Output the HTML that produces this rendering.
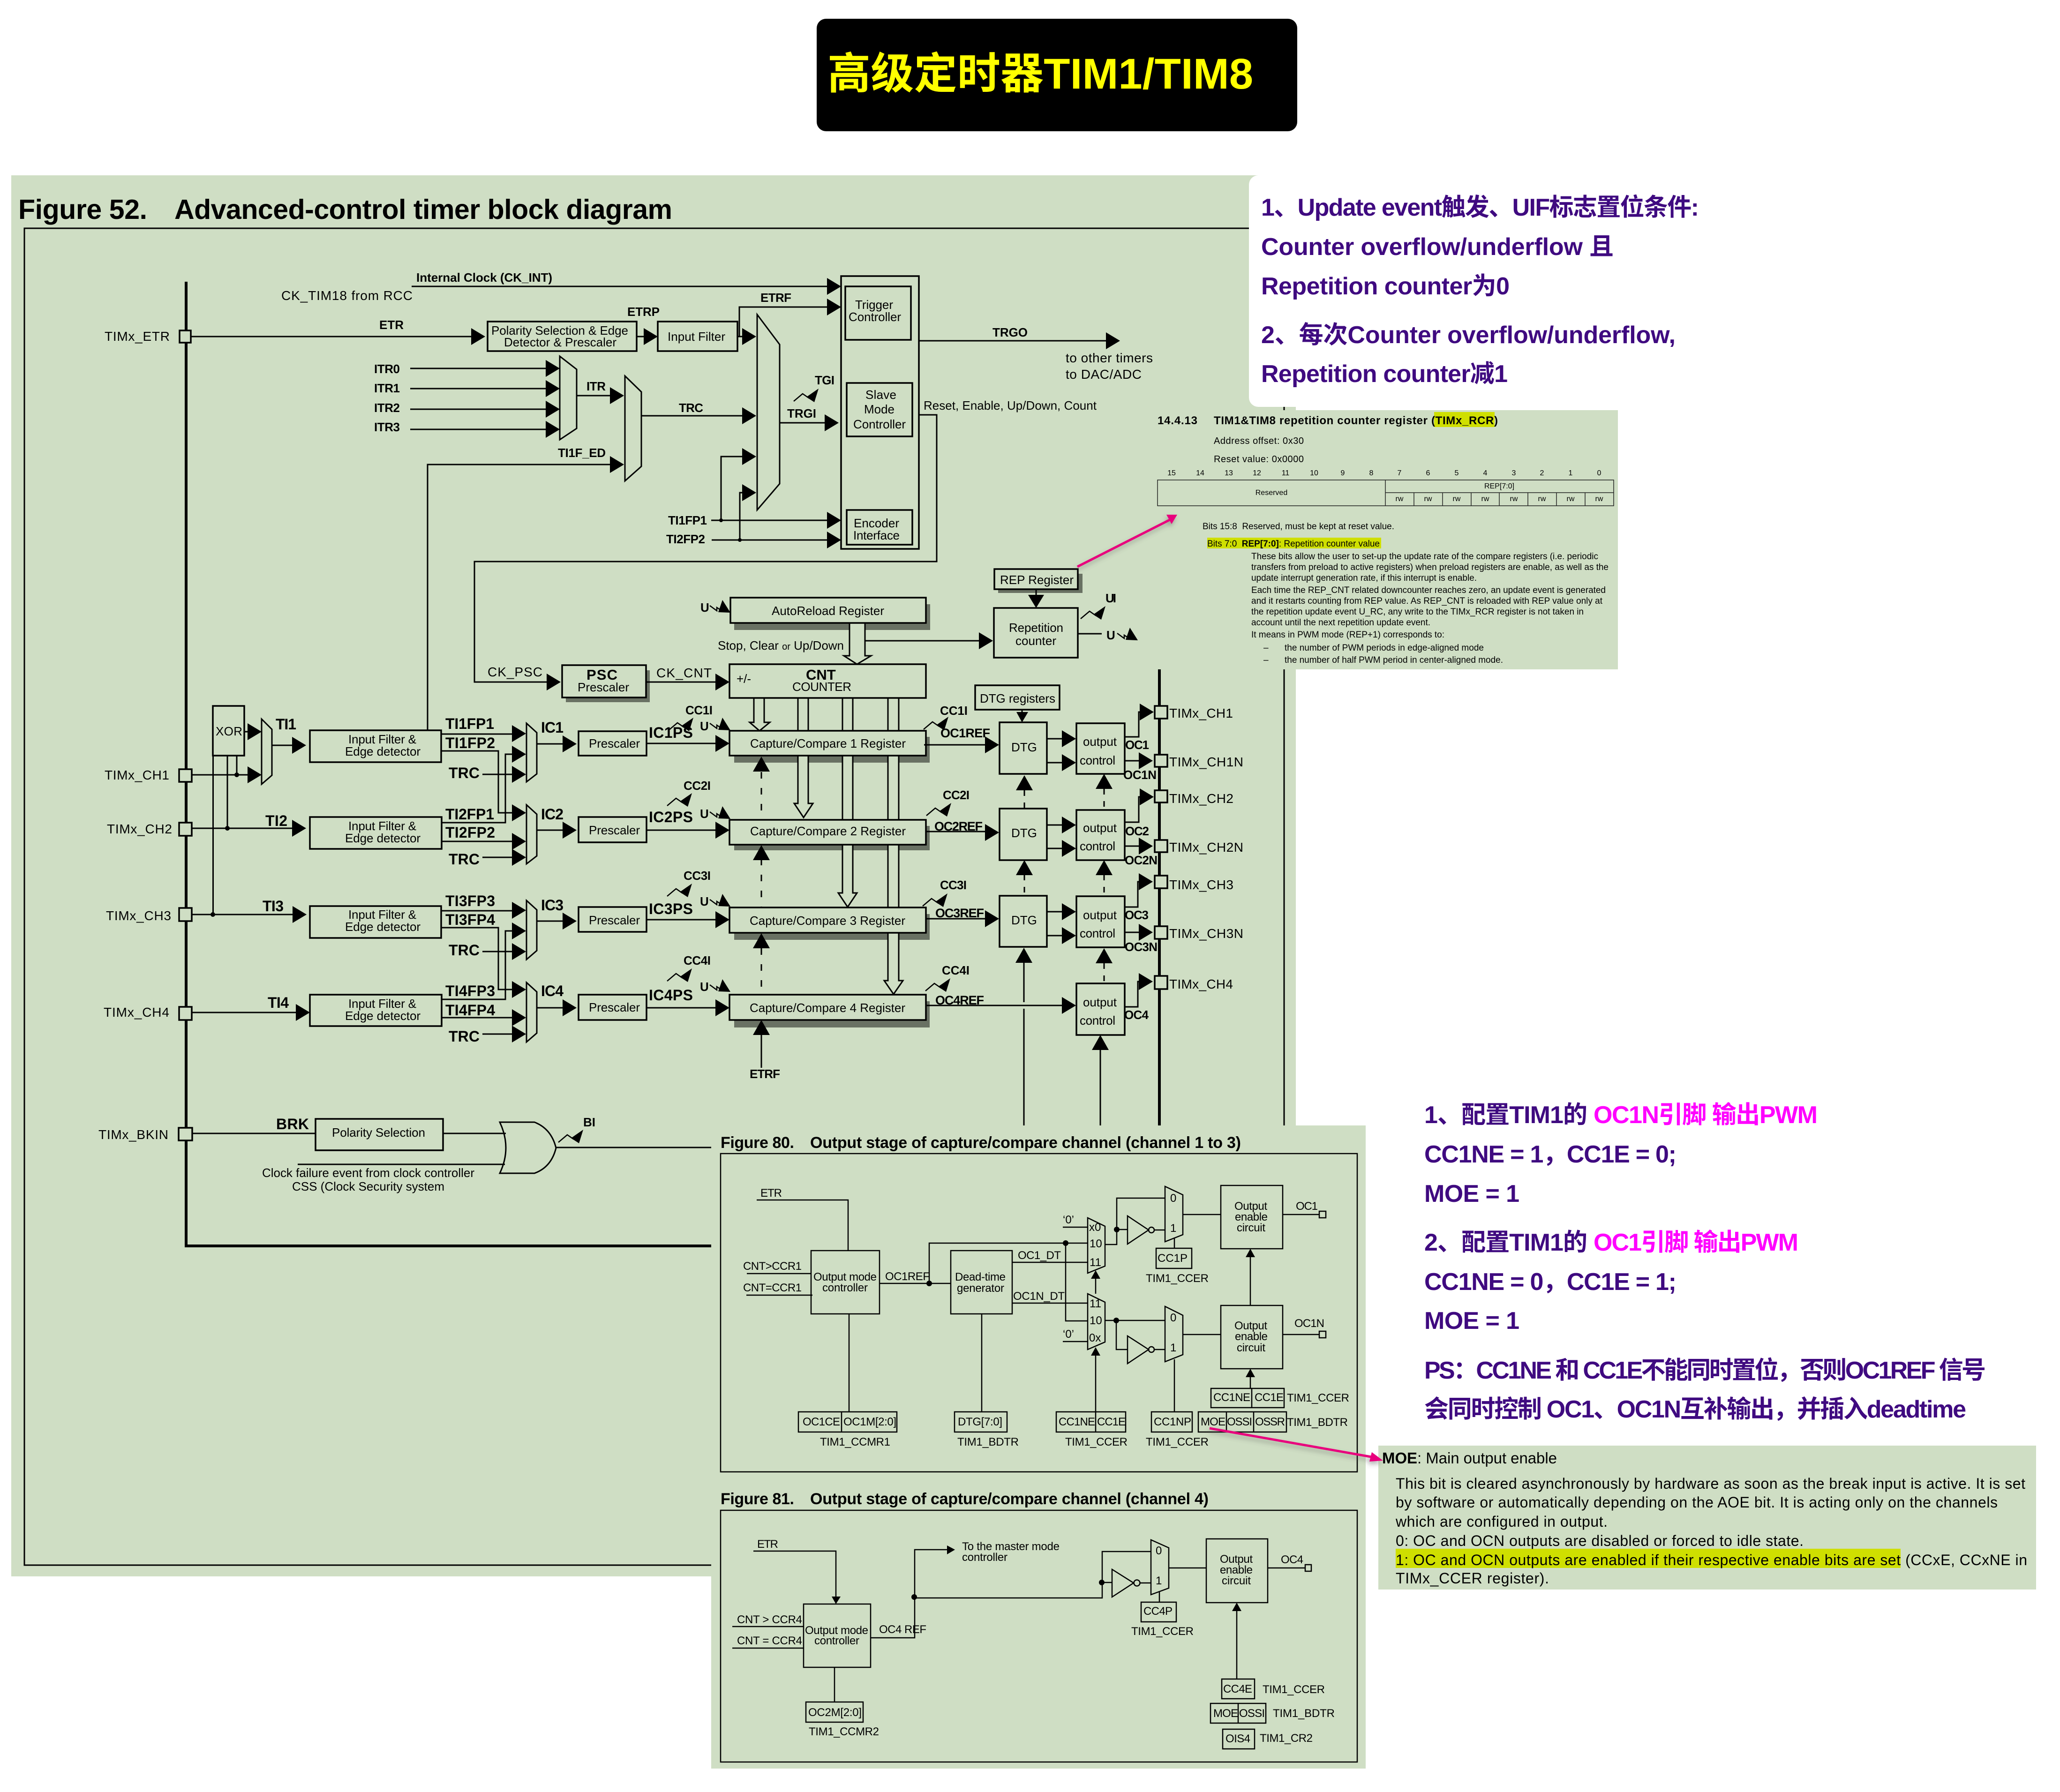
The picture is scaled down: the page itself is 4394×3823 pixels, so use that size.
<!DOCTYPE html>
<html><head><meta charset="utf-8"><title>TIM1/TIM8</title>
<style>
html,body{margin:0;padding:0;background:#fff}
svg{display:block;font-family:"Liberation Sans","Noto Sans CJK SC",sans-serif}
text{font-size:28px;fill:#000}
.b{font-weight:bold}
.l{fill:none;stroke:#000;stroke-width:3}
.bx{fill:#cfdec4;stroke:#000;stroke-width:3.5}
.sh{fill:#697163}
.p{font-weight:bold;font-size:52px;fill:#3f0a80}
.m{font-weight:bold;font-size:52px;fill:#ff00ff}
.d{font-size:26px}
.e{font-size:19px}
.f{font-size:24px}
.tb{font-size:26px}
.bb{font-weight:bold;font-size:32px}
.bs{font-weight:bold;font-size:26px}
</style></head><body>
<svg width="4394" height="3823" viewBox="0 0 4394 3823" xmlns="http://www.w3.org/2000/svg">
<defs>
<polygon id="R" points="-30,-18 0,0 -30,18"/>
<polygon id="Up" points="-18,32 0,0 18,32"/>
<polygon id="Dn" points="-17,-28 0,0 17,-28"/>
<polygon id="u" points="-10,18 0,0 10,18"/>
<g id="S"><path d="M0,0L19,-16L32,-7L38,-14" fill="none" stroke="#000" stroke-width="2.5"/><polygon points="53,-27 44,2 27,-9"/></g>
<g id="V"><path d="M0,0L15,11L15,4L24,10" fill="none" stroke="#000" stroke-width="2.5"/><polygon points="44,15 27,-12 18,14"/></g>
<filter id="sd" x="-5%" y="-20%" width="110%" height="140%"><feDropShadow dx="-2" dy="6" stdDeviation="5" flood-color="#555" flood-opacity=".45"/></filter>
</defs>
<rect width="4394" height="3823" fill="#fff"/>
<!-- title -->
<rect x="1742" y="40" width="1025" height="240" rx="20" fill="#000"/>
<text x="1765" y="189" class="b" style="font-size:92px;fill:#ffff00" textLength="908">高级定时器TIM1/TIM8</text>
<!-- main green -->
<rect x="24" y="374" width="2740" height="2989" fill="#cfdec4"/>
<text x="39" y="467" class="b" style="font-size:59px" textLength="275">Figure 52.</text>
<text x="372" y="467" class="b" style="font-size:59px" textLength="1062">Advanced-control timer block diagram</text>
<rect x="52" y="487" width="2687" height="2852" fill="none" stroke="#000" stroke-width="3"/>
<!-- buses -->
<path d="M397 601V2658H2473V1000" fill="none" stroke="#000" stroke-width="6"/>
<!-- upper section lines -->
<path class="l" d="M878 611H1770M407 718H1010M1358 718H1380M1573 718H1590M1577 718V655H1770M875 786H1170M875 829H1170M875 873H1170M875 916H1170M1230 844H1310M1368 887H1590M1663 902H1765M912 1558V991H1310M1960 727H2365M1960 885H1998V1198H1012V1455H1170M1517 1110H1770M1538 1110V974H1590M1518 1152H1770M1578 1152V1051H1590"/>
<g fill="#000">
<use href="#R" x="1794" y="611"/><use href="#R" x="1794" y="655"/><use href="#R" x="1035" y="718"/><use href="#R" x="1403" y="718"/><use href="#R" x="1613" y="718"/>
<use href="#R" x="1194" y="786"/><use href="#R" x="1194" y="829"/><use href="#R" x="1194" y="873"/><use href="#R" x="1194" y="916"/>
<use href="#R" x="1331" y="844"/><use href="#R" x="1331" y="991"/><use href="#R" x="1613" y="887"/><use href="#R" x="1613" y="974"/><use href="#R" x="1613" y="1051"/>
<use href="#R" x="1789" y="902"/><use href="#R" x="1794" y="1110"/><use href="#R" x="1794" y="1152"/><use href="#R" x="2389" y="727"/>
<circle cx="1538" cy="1110" r="4"/><circle cx="1578" cy="1152" r="4"/>
</g>
<path class="l" d="M1194 760L1230 788V914L1194 938ZM1333 802L1368 836V995L1333 1026ZM1615 671L1663 735V1032L1615 1088Z"/>
<rect x="1794" y="589" width="166" height="582" class="l" style="stroke-width:3.5"/>
<rect x="1803" y="611" width="140" height="114" class="l" style="stroke-width:3.5"/>
<rect x="1806" y="817" width="140" height="114" class="l" style="stroke-width:3.5"/>
<rect x="1806" y="1088" width="140" height="74" class="l" style="stroke-width:3.5"/>
<rect x="1040" y="686" width="318" height="63" class="l" style="stroke-width:3.5"/>
<rect x="1403" y="686" width="170" height="63" class="l" style="stroke-width:3.5"/>
<text x="888" y="601" class="b d" textLength="290">Internal Clock (CK_INT)</text>
<text x="600" y="640" textLength="280">CK_TIM18 from RCC</text>
<text x="223" y="727" textLength="139">TIMx_ETR</text>
<text x="809" y="702" class="bs" textLength="52">ETR</text>
<text x="1338" y="674" class="bs" textLength="69">ETRP</text>
<text x="1622" y="644" class="bs" textLength="66">ETRF</text>
<text x="2117" y="718" class="bs" textLength="75">TRGO</text>
<text x="1048" y="714" class="tb" textLength="292">Polarity Selection &amp; Edge</text>
<text x="1075" y="739" class="tb" textLength="240">Detector &amp; Prescaler</text>
<text x="1424" y="727" class="tb" textLength="123">Input Filter</text>
<text x="1824" y="659" class="tb" textLength="81">Trigger</text>
<text x="1810" y="685" class="tb" textLength="112">Controller</text>
<text x="1846" y="851" class="tb" textLength="66">Slave</text>
<text x="1843" y="882" class="tb" textLength="65">Mode</text>
<text x="1820" y="914" class="tb" textLength="112">Controller</text>
<text x="1821" y="1125" class="tb" textLength="97">Encoder</text>
<text x="1820" y="1151" class="tb" textLength="99">Interface</text>
<text x="798" y="796" class="bs" textLength="55">ITR0</text>
<text x="798" y="837" class="bs" textLength="55">ITR1</text>
<text x="798" y="879" class="bs" textLength="55">ITR2</text>
<text x="798" y="920" class="bs" textLength="55">ITR3</text>
<text x="1251" y="833" class="bs" textLength="41">ITR</text>
<text x="1448" y="879" class="bs" textLength="52">TRC</text>
<text x="1190" y="975" class="bs" textLength="102">TI1F_ED</text>
<text x="1679" y="891" class="bs" textLength="62">TRGI</text>
<text x="1738" y="820" class="bs" textLength="42">TGI</text>
<use href="#S" x="1693" y="856"/>
<text x="1425" y="1119" class="bs" textLength="83">TI1FP1</text>
<text x="1421" y="1159" class="bs" textLength="83">TI2FP2</text>
<text x="2273" y="773" textLength="186">to other timers</text>
<text x="2273" y="808" textLength="162">to DAC/ADC</text>
<text x="1970" y="874" class="tb" textLength="369">Reset, Enable, Up/Down, Count</text>

<!-- pins -->
<g fill="#cfdec4" stroke="#000" stroke-width="3.5">
<rect x="383" y="705" width="24" height="26"/>
<rect x="382" y="1641" width="27" height="27"/><rect x="382" y="1755" width="27" height="28"/><rect x="382" y="1937" width="27" height="28"/><rect x="382" y="2148" width="27" height="28"/>
<rect x="381" y="2406" width="29" height="27"/>
<rect x="2463" y="1506" width="27" height="27"/><rect x="2463" y="1610" width="27" height="26"/><rect x="2463" y="1686" width="27" height="26"/><rect x="2463" y="1792" width="27" height="26"/><rect x="2463" y="1868" width="27" height="27"/><rect x="2463" y="1976" width="27" height="27"/><rect x="2463" y="2082" width="27" height="28"/>
</g>
<text x="223" y="1663" textLength="138">TIMx_CH1</text>
<text x="228" y="1778" textLength="139">TIMx_CH2</text>
<text x="226" y="1963" textLength="139">TIMx_CH3</text>
<text x="221" y="2169" textLength="140">TIMx_CH4</text>
<text x="210" y="2430" textLength="149">TIMx_BKIN</text>
<text x="2494" y="1531" textLength="136">TIMx_CH1</text>
<text x="2494" y="1635" textLength="158">TIMx_CH1N</text>
<text x="2494" y="1713" textLength="137">TIMx_CH2</text>
<text x="2494" y="1817" textLength="158">TIMx_CH2N</text>
<text x="2494" y="1897" textLength="137">TIMx_CH3</text>
<text x="2494" y="2001" textLength="158">TIMx_CH3N</text>
<text x="2494" y="2109" textLength="136">TIMx_CH4</text>

<!-- left input section -->
<path class="l" d="M409 1653H530M521 1561H530M505 1612V1653M485 1612V1767M454.500 1612V1951M409 1767H625M409 1951H627M409 2160H635M580 1590H625"/>
<rect x="454" y="1506" width="67" height="106" class="l" style="stroke-width:3.500"/>
<text x="460" y="1569" class="tb" textLength="57">XOR</text>
<path class="l" d="M558 1534L580 1556V1654L558 1673Z"/>
<g>
<use href="#R" x="558" y="1561"/><use href="#R" x="558" y="1653"/><use href="#R" x="653" y="1590"/><use href="#R" x="653" y="1767"/><use href="#R" x="654" y="1951"/><use href="#R" x="661" y="2160"/>
<circle cx="505" cy="1653" r="5"/><circle cx="485" cy="1767" r="5"/><circle cx="454" cy="1951" r="5"/>
</g>
<text x="588" y="1556" class="bb" textLength="44">TI1</text><text x="566" y="1762" class="bb" textLength="47">TI2</text><text x="560" y="1944" class="bb" textLength="45">TI3</text><text x="571" y="2150" class="bb" textLength="45">TI4</text>
<g class="l" style="stroke-width:3.500">
<rect x="661" y="1558" width="280" height="68"/><rect x="661" y="1743" width="281" height="68"/><rect x="661" y="1933" width="280" height="68"/><rect x="661" y="2122" width="281" height="67"/>
</g>
<g class="tb">
<text x="743" y="1586" class="tb" textLength="145">Input Filter &amp;</text><text x="736" y="1612" class="tb" textLength="161">Edge detector</text>
<text x="743" y="1771" class="tb" textLength="145">Input Filter &amp;</text><text x="736" y="1797" class="tb" textLength="161">Edge detector</text>
<text x="743" y="1960" class="tb" textLength="145">Input Filter &amp;</text><text x="736" y="1986" class="tb" textLength="161">Edge detector</text>
<text x="743" y="2150" class="tb" textLength="145">Input Filter &amp;</text><text x="736" y="2176" class="tb" textLength="161">Edge detector</text>
</g>
<path class="l" d="M941 1566H1095M941 1602H1063V1734H1095M1095 1609H1078V1755H942M1029 1652H1095M942 1795H1095M1029 1829H1095M941 1943H1095M941 1979H1063V2111H1095M1095 1986H1078V2132H942M1029 2030H1095M942 2171H1095M1029 2206H1095"/>
<g>
<use href="#R" x="1122" y="1565"/><use href="#R" x="1122" y="1609"/><use href="#R" x="1122" y="1652"/><use href="#R" x="1122" y="1734"/><use href="#R" x="1122" y="1795"/><use href="#R" x="1122" y="1829"/>
<use href="#R" x="1122" y="1942"/><use href="#R" x="1122" y="1986"/><use href="#R" x="1122" y="2030"/><use href="#R" x="1122" y="2111"/><use href="#R" x="1122" y="2171"/><use href="#R" x="1122" y="2206"/>
</g>
<path class="l" d="M1123 1543L1145 1563V1651L1123 1668ZM1123 1717L1145 1737V1826L1123 1843ZM1123 1921L1145 1941V2028L1123 2047ZM1123 2096L1145 2116V2204L1123 2223Z"/>
<text x="950" y="1555" class="bb" textLength="104">TI1FP1</text><text x="950" y="1596" class="bb" textLength="106">TI1FP2</text><text x="957" y="1660" class="bb" textLength="66">TRC</text>
<text x="950" y="1748" class="bb" textLength="104">TI2FP1</text><text x="950" y="1787" class="bb" textLength="106">TI2FP2</text><text x="957" y="1844" class="bb" textLength="66">TRC</text>
<text x="950" y="1933" class="bb" textLength="106">TI3FP3</text><text x="950" y="1973" class="bb" textLength="106">TI3FP4</text><text x="957" y="2038" class="bb" textLength="66">TRC</text>
<text x="950" y="2125" class="bb" textLength="106">TI4FP3</text><text x="950" y="2166" class="bb" textLength="106">TI4FP4</text><text x="957" y="2222" class="bb" textLength="66">TRC</text>
<text x="1154" y="1563" class="bb" textLength="48">IC1</text><text x="1154" y="1748" class="bb" textLength="48">IC2</text><text x="1154" y="1942" class="bb" textLength="48">IC3</text><text x="1154" y="2125" class="bb" textLength="48">IC4</text>
<path class="l" d="M1145 1587H1205M1145 1771H1205M1145 1965H1205M1145 2150H1205M1379 1586H1530M1379 1771H1530M1379 1962H1530M1379 2150H1530"/>
<g>
<use href="#R" x="1230" y="1587"/><use href="#R" x="1230" y="1771"/><use href="#R" x="1230" y="1965"/><use href="#R" x="1230" y="2150"/>
<use href="#R" x="1556" y="1586"/><use href="#R" x="1556" y="1771"/><use href="#R" x="1556" y="1962"/><use href="#R" x="1556" y="2150"/>
</g>
<g class="l" style="stroke-width:3.500">
<rect x="1234" y="1560" width="145" height="52"/><rect x="1234" y="1743" width="145" height="54"/><rect x="1234" y="1935" width="145" height="53"/><rect x="1234" y="2122" width="145" height="54"/>
</g>
<text x="1256" y="1595" class="tb" textLength="109">Prescaler</text><text x="1256" y="1780" class="tb" textLength="109">Prescaler</text><text x="1256" y="1972" class="tb" textLength="109">Prescaler</text><text x="1256" y="2158" class="tb" textLength="109">Prescaler</text>
<text x="1384" y="1574" class="bb" textLength="94">IC1PS</text><text x="1384" y="1754" class="bb" textLength="94">IC2PS</text><text x="1384" y="1950" class="bb" textLength="94">IC3PS</text><text x="1384" y="2134" class="bb" textLength="94">IC4PS</text>
<text x="1462" y="1524" class="bs" textLength="58">CC1I</text><text x="1458" y="1685" class="bs" textLength="58">CC2I</text><text x="1458" y="1877" class="bs" textLength="58">CC3I</text><text x="1458" y="2058" class="bs" textLength="58">CC4I</text>
<use href="#S" x="1426" y="1558"/><use href="#S" x="1423" y="1719"/><use href="#S" x="1423" y="1912"/><use href="#S" x="1423" y="2093"/>
<text x="1493" y="1558" class="bs">U</text><text x="1493" y="1745" class="bs">U</text><text x="1493" y="1932" class="bs">U</text><text x="1493" y="2114" class="bs">U</text><text x="1494" y="1305" class="bs">U</text>
<use href="#V" x="1514" y="1543"/><use href="#V" x="1514" y="1732"/><use href="#V" x="1514" y="1919"/><use href="#V" x="1514" y="2101"/><use href="#V" x="1514" y="1292"/>

<!-- PSC -->
<rect x="1207" y="1430" width="179" height="68" class="sh"/>
<rect x="1199" y="1419" width="179" height="69" class="bx"/>
<text x="1251" y="1450" class="b" style="font-size:31px" textLength="66">PSC</text>
<text x="1232" y="1475" class="tb" textLength="110">Prescaler</text>
<text x="1040" y="1443" textLength="117">CK_PSC</text>
<text x="1400" y="1445" textLength="118">CK_CNT</text>
<use href="#R" x="1196" y="1455"/>
<path class="l" d="M1378 1455H1530"/><use href="#R" x="1556" y="1455"/>

<!-- registers shadows -->
<rect x="1566" y="1289" width="418" height="55" class="sh"/>
<rect x="1566" y="1572" width="417" height="55" class="sh"/>
<rect x="1566" y="1762" width="417" height="52" class="sh"/>
<rect x="1566" y="1950" width="417" height="55" class="sh"/>
<rect x="1566" y="2136" width="417" height="56" class="sh"/>
<rect x="2129" y="1224" width="180" height="41" class="sh"/>
<!-- hollow bus lines -->
<g class="l" style="fill:#cfdec4">
<path d="M1812 1329V1399H1800L1828 1417L1858 1399H1845V1329Z"/>
<path d="M1608 1489V1541H1599L1620 1559L1642 1541H1630V1489Z"/>
<path d="M1702 1489V1560H1724V1489ZM1702 1612V1714H1694L1714 1744L1734 1714H1724V1612Z"/>
<path d="M1797 1489V1560H1819V1489ZM1797 1612V1750H1819V1612ZM1797 1802V1905H1788L1808 1935L1828 1905H1819V1802Z"/>
<path d="M1894 1489V1560H1917V1489ZM1894 1612V1750H1917V1612ZM1894 1802V1937H1917V1802ZM1894 1990V2092H1886L1906 2121L1926 2092H1917V1990Z"/>
</g>
<rect x="1558" y="1275" width="417" height="54" class="bx"/>
<rect x="1556" y="1417" width="419" height="72" class="bx"/>
<rect x="1556" y="1559" width="419" height="53" class="bx"/>
<rect x="1556" y="1749" width="419" height="53" class="bx"/>
<rect x="1556" y="1936" width="419" height="54" class="bx"/>
<rect x="1556" y="2122" width="419" height="54" class="bx"/>
<text x="1646" y="1312" class="tb" textLength="240">AutoReload Register</text>
<text x="1531" y="1386" class="tb" textLength="269">Stop, Clear <tspan style="font-size:20px">or</tspan> Up/Down</text>
<text x="1571" y="1457" class="tb">+/-</text>
<text x="1719" y="1450" class="b" style="font-size:31px">CNT</text>
<text x="1690" y="1474" class="tb" textLength="126">COUNTER</text>
<text x="1600" y="1595" class="tb" textLength="332">Capture/Compare 1 Register</text>
<text x="1600" y="1782" class="tb" textLength="332">Capture/Compare 2 Register</text>
<text x="1599" y="1973" class="tb" textLength="332">Capture/Compare 3 Register</text>
<text x="1599" y="2159" class="tb" textLength="332">Capture/Compare 4 Register</text>
<!-- dashed up -->
<path d="M1624 1647V1749M1624 1832V1936M1624 2023V2122" fill="none" stroke="#000" stroke-width="3" stroke-dasharray="14 20"/>
<path class="l" d="M1624 2208V2278"/>
<use href="#Up" x="1624" y="1614"/><use href="#Up" x="1624" y="1803"/><use href="#Up" x="1624" y="1991"/><use href="#Up" x="1624" y="2176"/>
<text x="1599" y="2300" class="bs" textLength="65">ETRF</text>
<!-- rep counter -->
<rect x="2121" y="1214" width="178" height="43" class="bx"/>
<text x="2133" y="1246" class="tb" textLength="157">REP Register</text>
<rect x="2120" y="1297" width="179" height="106" class="l" style="stroke-width:3.500"/>
<text x="2152" y="1348" class="tb" textLength="116">Repetition</text>
<text x="2166" y="1376" class="tb" textLength="87">counter</text>
<path class="l" d="M1845 1367H2092M2210 1257V1275M2299 1352H2350"/>
<use href="#R" x="2118" y="1367"/><use href="#Dn" x="2210" y="1297"/>
<text x="2358" y="1285" class="bs" textLength="23">UI</text><use href="#S" x="2305" y="1320"/>
<text x="2360" y="1364" class="bs">U</text><use href="#V" x="2383" y="1351"/>
<!-- DTG / output -->
<rect x="2080" y="1462" width="180" height="52" class="l" style="stroke-width:3.500"/>
<text x="2090" y="1499" class="tb" textLength="161">DTG registers</text>
<path class="l" d="M2180 1514V1525"/><polygon points="2168,1519 2193,1519 2180,1541"/>
<g class="l" style="stroke-width:3.500">
<rect x="2132" y="1541" width="101" height="110"/><rect x="2132" y="1725" width="101" height="110"/><rect x="2132" y="1911" width="101" height="109"/>
<rect x="2296" y="1543" width="103" height="108"/><rect x="2296" y="1728" width="103" height="107"/><rect x="2296" y="1912" width="103" height="109"/><rect x="2296" y="2098" width="103" height="110"/>
</g>
<text x="2157" y="1603" class="tb">DTG</text><text x="2157" y="1786" class="tb">DTG</text><text x="2157" y="1972" class="tb">DTG</text>
<text x="2310" y="1591" class="tb" textLength="72">output</text><text x="2303" y="1631" class="tb" textLength="76">control</text>
<text x="2310" y="1775" class="tb" textLength="72">output</text><text x="2303" y="1814" class="tb" textLength="76">control</text>
<text x="2310" y="1961" class="tb" textLength="72">output</text><text x="2303" y="2000" class="tb" textLength="76">control</text>
<text x="2310" y="2147" class="tb" textLength="72">output</text><text x="2303" y="2186" class="tb" textLength="76">control</text>
<path class="l" d="M1971 1589H2105M1975 1774H2105M1975 1960H2105M1975 2145H2270M2233 1576H2270M2233 1627H2270M2233 1760H2270M2233 1810H2270M2233 1945H2270M2233 1996H2270M2399 1572H2429V1519H2440M2399 1623H2435M2399 1754H2429V1700H2440M2399 1805H2435M2399 1935H2427V1881H2440M2399 1989H2435M2399 2148H2427V2094H2440M2184 2052V2138M2184 2152V2401M2347 2238V2401"/>
<g>
<use href="#R" x="2131" y="1589"/><use href="#R" x="2131" y="1776"/><use href="#R" x="2131" y="1960"/>
<use href="#R" x="2295" y="1576"/><use href="#R" x="2295" y="1627"/><use href="#R" x="2295" y="1760"/><use href="#R" x="2295" y="1810"/><use href="#R" x="2295" y="1945"/><use href="#R" x="2295" y="1996"/><use href="#R" x="2295" y="2145"/>
<use href="#R" x="2461" y="1519"/><use href="#R" x="2459" y="1623"/><use href="#R" x="2461" y="1700"/><use href="#R" x="2459" y="1805"/><use href="#R" x="2459" y="1881"/><use href="#R" x="2459" y="1989"/><use href="#R" x="2459" y="2094"/>
<use href="#Up" x="2185" y="1654"/><use href="#Up" x="2185" y="1835"/><use href="#Up" x="2184" y="2022"/>
<use href="#Up" x="2355" y="1651"/><use href="#Up" x="2355" y="1835"/><use href="#Up" x="2355" y="2023"/><use href="#Up" x="2347" y="2208"/>
</g>
<path d="M2185 1686V1725M2185 1866V1911M2355 1683V1728M2355 1866V1912M2355 2055V2098" fill="none" stroke="#000" stroke-width="3" stroke-dasharray="12 14"/>
<text x="2005" y="1525" class="bs" textLength="59">CC1I</text><text x="2011" y="1705" class="bs" textLength="57">CC2I</text><text x="2005" y="1897" class="bs" textLength="57">CC3I</text><text x="2009" y="2079" class="bs" textLength="59">CC4I</text>
<use href="#S" x="1970" y="1556"/><use href="#S" x="1976" y="1740"/><use href="#S" x="1968" y="1933"/><use href="#S" x="1974" y="2114"/>
<text x="2006" y="1573" class="b" style="font-size:27px" textLength="106">OC1REF</text>
<text x="1993" y="1772" class="b" style="font-size:27px" textLength="103">OC2REF</text>
<text x="1995" y="1957" class="b" style="font-size:27px" textLength="104">OC3REF</text>
<text x="1995" y="2143" class="b" style="font-size:27px" textLength="104">OC4REF</text>
<text x="2400" y="1598" class="bs" textLength="51">OC1</text><text x="2396" y="1662" class="bs" textLength="71">OC1N</text>
<text x="2400" y="1782" class="bs" textLength="51">OC2</text><text x="2399" y="1844" class="bs" textLength="70">OC2N</text>
<text x="2399" y="1961" class="bs" textLength="51">OC3</text><text x="2399" y="2029" class="bs" textLength="70">OC3N</text>
<text x="2398" y="2174" class="bs" textLength="52">OC4</text>
<!-- BRK -->
<rect x="673" y="2387" width="272" height="67" class="l" style="stroke-width:3.500"/>
<text x="708" y="2425" class="tb" textLength="199">Polarity Selection</text>
<text x="589" y="2409" class="bb" textLength="70">BRK</text>
<path class="l" d="M410 2418H673M945 2418H1079M635 2484H1077M1186 2448H1517"/>
<path class="l" d="M1066 2394Q1092 2449 1066 2503H1140Q1176 2490 1186 2449Q1176 2408 1140 2394Z"/>
<text x="1244" y="2403" class="bs" textLength="26">BI</text><use href="#S" x="1191" y="2437"/>
<text x="559" y="2511" class="tb" textLength="453">Clock failure event from clock controller</text>
<text x="623" y="2540" class="tb" textLength="325">CSS (Clock Security system</text>

<!-- REP doc panel -->
<rect x="2440" y="875" width="1011" height="553" fill="#cfdec4"/>
<rect x="3059" y="879" width="129" height="32" fill="#cfdf00"/>
<text x="2469" y="905" class="b" style="font-size:24px" textLength="85">14.4.13</text>
<text x="2589" y="905" class="b" style="font-size:24px" textLength="606">TIM1&amp;TIM8 repetition counter register (TIMx_RCR)</text>
<text x="2589" y="947" style="font-size:20px" textLength="192">Address offset: 0x30</text>
<text x="2589" y="986" style="font-size:20px" textLength="192">Reset value: 0x0000</text>
<g style="font-size:16px" text-anchor="middle">
<text style="font-size:16px" x="2499" y="1014">15</text><text style="font-size:16px" x="2560" y="1014">14</text><text style="font-size:16px" x="2621" y="1014">13</text><text style="font-size:16px" x="2681" y="1014">12</text><text style="font-size:16px" x="2742" y="1014">11</text><text style="font-size:16px" x="2803" y="1014">10</text><text style="font-size:16px" x="2864" y="1014">9</text><text style="font-size:16px" x="2925" y="1014">8</text><text style="font-size:16px" x="2985" y="1014">7</text><text style="font-size:16px" x="3046" y="1014">6</text><text style="font-size:16px" x="3107" y="1014">5</text><text style="font-size:16px" x="3168" y="1014">4</text><text style="font-size:16px" x="3229" y="1014">3</text><text style="font-size:16px" x="3289" y="1014">2</text><text style="font-size:16px" x="3350" y="1014">1</text><text style="font-size:16px" x="3411" y="1014">0</text>
<text style="font-size:16px" x="2712" y="1056">Reserved</text><text style="font-size:16px" x="3198" y="1042">REP[7:0]</text>
<text style="font-size:16px" x="2985" y="1069">rw</text><text style="font-size:16px" x="3046" y="1069">rw</text><text style="font-size:16px" x="3107" y="1069">rw</text><text style="font-size:16px" x="3168" y="1069">rw</text><text style="font-size:16px" x="3229" y="1069">rw</text><text style="font-size:16px" x="3289" y="1069">rw</text><text style="font-size:16px" x="3350" y="1069">rw</text><text style="font-size:16px" x="3411" y="1069">rw</text>
</g>
<path d="M2469 1024H3442V1079H2469ZM2955 1024V1079M2955 1051H3442M3016 1051V1079M3077 1051V1079M3138 1051V1079M3198 1051V1079M3259 1051V1079M3320 1051V1079M3381 1051V1079" fill="none" stroke="#222" stroke-width="1.500"/>
<text x="2565" y="1129" class="e" textLength="409" xml:space="preserve">Bits 15:8  Reserved, must be kept at reset value.</text>
<rect x="2575" y="1147" width="371" height="23" fill="#cfdf00"/>
<text x="2575" y="1166" class="e" textLength="368" xml:space="preserve">Bits 7:0  <tspan class="b">REP[7:0]</tspan>: Repetition counter value</text>
<text x="2669" y="1193" class="e" textLength="740">These bits allow the user to set-up the update rate of the compare registers (i.e. periodic</text>
<text x="2669" y="1216" class="e" textLength="762">transfers from preload to active registers) when preload registers are enable, as well as the</text>
<text x="2669" y="1239" class="e" textLength="481">update interrupt generation rate, if this interrupt is enable.</text>
<text x="2669" y="1265" class="e" textLength="756">Each time the REP_CNT related downcounter reaches zero, an update event is generated</text>
<text x="2669" y="1288" class="e" textLength="749">and it restarts counting from REP value. As REP_CNT is reloaded with REP value only at</text>
<text x="2669" y="1311" class="e" textLength="709">the repetition update event U_RC, any write to the TIMx_RCR register is not taken in</text>
<text x="2669" y="1334" class="e" textLength="382">account until the next repetition update event.</text>
<text x="2669" y="1360" class="e" textLength="412">It means in PWM mode (REP+1) corresponds to:</text>
<text x="2695" y="1388" class="e">–</text><text x="2740" y="1388" class="e" textLength="425">the number of PWM periods in edge-aligned mode</text>
<text x="2695" y="1414" class="e">–</text><text x="2740" y="1414" class="e" textLength="466">the number of half PWM period in center-aligned mode.</text>

<!-- white callout -->
<path d="M2684 374H4394V868H2684A20 20 0 0 1 2664 848V394A20 20 0 0 1 2684 374Z" fill="#fff"/>
<text x="2690" y="460" class="p" textLength="934">1、Update event触发、UIF标志置位条件:</text>
<text x="2690" y="544" class="p" textLength="752">Counter overflow/underflow 且</text>
<text x="2690" y="628" class="p" textLength="530">Repetition counter为0</text>
<text x="2690" y="732" class="p" textLength="884">2、每次Counter overflow/underflow,</text>
<text x="2690" y="815" class="p" textLength="526">Repetition counter减1</text>

<!-- Fig 80 / 81 panel -->
<rect x="1517" y="2401" width="1396" height="1372" fill="#cfdec4"/>
<text x="1537" y="2449" class="b" style="font-size:34px" textLength="157">Figure 80.</text>
<text x="1728" y="2449" class="b" style="font-size:34px" textLength="919">Output stage of capture/compare channel (channel 1 to 3)</text>
<rect x="1537" y="2461" width="1358" height="679" fill="none" stroke="#000" stroke-width="2.500"/>
<g fill="none" stroke="#000" stroke-width="2.500">
<path d="M1614 2560H1809V2668M1593 2717H1730M1592 2763H1733M1876 2738H2028M1982 2738V2652H2320M2273 2652V2818H2320M2159 2693H2320M2159 2780H2320M2267 2618H2320M2267 2862H2320M2337 2760V2725M2337 3011V2889M2357 2655H2382V2556H2485M2382 2623H2405M2463 2624H2485M2523 2591H2604M2505 2640V2663M2736 2591H2814M2357 2817H2485M2381 2817V2879H2405M2463 2879H2485M2523 2847H2604M2505 2900V3011M2736 2847H2814M2667 2785V2680M2667 2962V2936M1811 2803V3012M2094 2803V3012"/>
<path d="M2320 2598L2357 2616V2701L2320 2716ZM2320 2760L2357 2778V2863L2320 2879ZM2485 2531L2523 2549V2634L2485 2649ZM2485 2787L2523 2806V2890L2485 2905ZM2405 2594V2654L2450 2624ZM2405 2850V2909L2450 2879Z"/>
<circle cx="2456" cy="2624" r="6"/><circle cx="2456" cy="2879" r="6"/>
<rect x="1730" y="2668" width="146" height="135"/><rect x="2028" y="2668" width="131" height="135"/><rect x="2604" y="2529" width="132" height="135"/><rect x="2604" y="2785" width="132" height="135"/>
<rect x="2814" y="2584" width="14" height="14"/><rect x="2814" y="2840" width="14" height="14"/>
<rect x="2466" y="2663" width="76" height="43"/>
<path d="M2583 2962H2739V3003H2583ZM2670 2962V3003M1703 3012H1913V3055H1703ZM1795 3012V3055M2036 3012H2148V3055H2036ZM2253 3012H2401V3055H2253ZM2337 3012V3055M2456 3012H2543V3055H2456ZM2556 3012H2744V3055H2556ZM2616 3012V3055M2674 3012V3055"/>
</g>
<circle cx="1982" cy="2738" r="6"/><circle cx="2273" cy="2652" r="6"/><circle cx="2382" cy="2623" r="6"/><circle cx="2381" cy="2817" r="6"/>
<use href="#u" x="2337" y="2710"/><use href="#u" x="2337" y="2874"/><use href="#u" x="2667" y="2664"/><use href="#u" x="2667" y="2920"/>
<g>
<text class="f" x="1622" y="2553" textLength="46">ETR</text><text class="f" x="1585" y="2709" textLength="125">CNT&gt;CCR1</text><text class="f" x="1585" y="2755" textLength="125">CNT=CCR1</text>
<text class="f" x="1735" y="2732" textLength="135">Output mode</text><text class="f" x="1754" y="2755" textLength="97">controller</text>
<text class="f" x="1888" y="2731" textLength="95">OC1REF</text>
<text class="f" x="2037" y="2732" textLength="108">Dead-time</text><text class="f" x="2041" y="2756" textLength="101">generator</text>
<text class="f" x="2171" y="2686" textLength="92">OC1_DT</text><text class="f" x="2161" y="2773" textLength="110">OC1N_DT</text>
<text class="f" x="2267" y="2610">‘0’</text><text class="f" x="2267" y="2854">‘0’</text>
<text class="f" x="2323" y="2626">x0</text><text class="f" x="2324" y="2661">10</text><text class="f" x="2324" y="2701">11</text>
<text class="f" x="2324" y="2789">11</text><text class="f" x="2324" y="2825">10</text><text class="f" x="2323" y="2862">0x</text>
<text class="f" x="2496" y="2564">0</text><text class="f" x="2496" y="2628">1</text><text class="f" x="2496" y="2819">0</text><text class="f" x="2496" y="2883">1</text>
<text class="f" x="2469" y="2692" textLength="64">CC1P</text><text class="f" x="2444" y="2735" textLength="134">TIM1_CCER</text>
<text class="f" x="2633" y="2581" textLength="70">Output</text><text class="f" x="2634" y="2604" textLength="70">enable</text><text class="f" x="2638" y="2627" textLength="61">circuit</text>
<text class="f" x="2633" y="2836" textLength="70">Output</text><text class="f" x="2634" y="2859" textLength="70">enable</text><text class="f" x="2638" y="2883" textLength="61">circuit</text>
<text class="f" x="2764" y="2581" textLength="47">OC1</text><text class="f" x="2761" y="2831" textLength="64">OC1N</text>
<text class="f" x="2588" y="2989" textLength="79">CC1NE</text><text class="f" x="2676" y="2989" textLength="62">CC1E</text><text class="f" x="2745" y="2990" textLength="133">TIM1_CCER</text>
<text class="f" x="1712" y="3041" textLength="80">OC1CE</text><text class="f" x="1799" y="3041" textLength="113">OC1M[2:0]</text><text class="f" x="1749" y="3084" textLength="150">TIM1_CCMR1</text>
<text class="f" x="2043" y="3041" textLength="95">DTG[7:0]</text><text class="f" x="2042" y="3084" textLength="131">TIM1_BDTR</text>
<text class="f" x="2258" y="3041" textLength="78">CC1NE</text><text class="f" x="2340" y="3041" textLength="61">CC1E</text><text class="f" x="2272" y="3084" textLength="133">TIM1_CCER</text>
<text class="f" x="2461" y="3041" textLength="80">CC1NP</text><text class="f" x="2444" y="3084" textLength="134">TIM1_CCER</text>
<text class="f" x="2561" y="3041" textLength="53">MOE</text><text class="f" x="2617" y="3041" textLength="54">OSSI</text><text class="f" x="2677" y="3041" textLength="64">OSSR</text><text class="f" x="2745" y="3042" textLength="130">TIM1_BDTR</text>
</g>

<text x="1537" y="3209" class="b" style="font-size:34px" textLength="157">Figure 81.</text>
<text x="1728" y="3209" class="b" style="font-size:34px" textLength="850">Output stage of capture/compare channel (channel 4)</text>
<rect x="1537" y="3222" width="1358" height="537" fill="none" stroke="#000" stroke-width="2.500"/>
<g fill="none" stroke="#000" stroke-width="2.500">
<path d="M1607 3309H1783V3408M1562 3470H1714M1562 3516H1714M1857 3494H1951V3306H2025M1951 3409H2351V3310H2455M2350 3376H2372M2431 3377H2455M2493 3345H2573M2473 3396V3418M2704 3345H2784M2638 3582V3434M1780 3557V3631"/>
<path d="M2455 3285L2493 3302V3388L2455 3402ZM2372 3348V3407L2418 3377Z"/>
<circle cx="2425" cy="3377" r="6.500"/>
<rect x="1714" y="3422" width="143" height="135"/><rect x="2573" y="3283" width="131" height="136"/><rect x="2784" y="3338" width="13" height="14"/>
<rect x="2434" y="3418" width="75" height="42"/><rect x="2606" y="3582" width="70" height="42"/><path d="M2582 3634H2700V3676H2582ZM2641 3634V3676"/><rect x="2608" y="3689" width="68" height="42"/><rect x="1719" y="3631" width="122" height="43"/>
</g>
<circle cx="1950" cy="3407" r="6"/><circle cx="2350" cy="3376" r="6"/>
<polygon points="1774,3406 1793,3406 1783,3422"/><polygon points="2020,3297 2037,3306 2020,3316"/><use href="#u" x="2638" y="3419"/>
<g>
<text class="f" x="1615" y="3302" textLength="45">ETR</text>
<text class="f" x="1572" y="3463" textLength="139">CNT &gt; CCR4</text><text class="f" x="1572" y="3508" textLength="139">CNT = CCR4</text>
<text class="f" x="1717" y="3486" textLength="135">Output mode</text><text class="f" x="1737" y="3508" textLength="96">controller</text>
<text class="f" x="1875" y="3484" textLength="101">OC4 REF</text>
<text class="f" x="2052" y="3307" textLength="208">To the master mode</text><text class="f" x="2052" y="3330" textLength="97">controller</text>
<text class="f" x="2465" y="3316">0</text><text class="f" x="2465" y="3380">1</text>
<text class="f" x="2602" y="3334" textLength="70">Output</text><text class="f" x="2602" y="3357" textLength="70">enable</text><text class="f" x="2606" y="3380" textLength="62">circuit</text>
<text class="f" x="2732" y="3335" textLength="48">OC4</text>
<text class="f" x="2439" y="3445" textLength="62">CC4P</text><text class="f" x="2413" y="3488" textLength="133">TIM1_CCER</text>
<text class="f" x="2609" y="3611" textLength="62">CC4E</text><text class="f" x="2693" y="3612" textLength="133">TIM1_CCER</text>
<text class="f" x="2588" y="3663" textLength="53">MOE</text><text class="f" x="2643" y="3663" textLength="55">OSSI</text><text class="f" x="2715" y="3663" textLength="132">TIM1_BDTR</text>
<text class="f" x="2614" y="3717" textLength="53">OIS4</text><text class="f" x="2687" y="3716" textLength="113">TIM1_CR2</text>
<text class="f" x="1724" y="3661" textLength="114">OC2M[2:0]</text><text class="f" x="1725" y="3702" textLength="150">TIM1_CCMR2</text>
</g>

<!-- right notes -->
<text x="3038" y="2396" class="p" textLength="348">1、配置TIM1的</text>
<text x="3399" y="2396" class="m" textLength="478">OC1N引脚 输出PWM</text>
<text x="3038" y="2480" class="p" textLength="538">CC1NE = 1，CC1E = 0;</text>
<text x="3038" y="2564" class="p" textLength="203">MOE = 1</text>
<text x="3038" y="2668" class="p" textLength="348">2、配置TIM1的</text>
<text x="3399" y="2668" class="m" textLength="437">OC1引脚 输出PWM</text>
<text x="3038" y="2752" class="p" textLength="538">CC1NE = 0，CC1E = 1;</text>
<text x="3038" y="2835" class="p" textLength="203">MOE = 1</text>
<text x="3038" y="2941" class="p" textLength="1198">PS：CC1NE 和 CC1E不能同时置位，否则OC1REF 信号</text>
<text x="3038" y="3024" class="p" textLength="1156">会同时控制 OC1、OC1N互补输出，并插入deadtime</text>

<!-- MOE panel -->
<rect x="2940" y="3084" width="1403" height="307" fill="#cfdec4"/>
<rect x="2977" y="3304" width="1077" height="41" fill="#cfdf00"/>
<text x="2948" y="3122" style="font-size:33px" textLength="373"><tspan class="b">MOE</tspan>: Main output enable</text>
<text x="2977" y="3176" style="font-size:32px" textLength="1343">This bit is cleared asynchronously by hardware as soon as the break input is active. It is set</text>
<text x="2977" y="3216" style="font-size:32px" textLength="1284">by software or automatically depending on the AOE bit. It is acting only on the channels</text>
<text x="2977" y="3257" style="font-size:32px" textLength="452">which are configured in output.</text>
<text x="2977" y="3298" style="font-size:32px" textLength="870">0: OC and OCN outputs are disabled or forced to idle state.</text>
<text x="2977" y="3339" style="font-size:32px" textLength="1347">1: OC and OCN outputs are enabled if their respective enable bits are set (CCxE, CCxNE in</text>
<text x="2977" y="3378" style="font-size:32px" textLength="327">TIMx_CCER register).</text>

<!-- pink arrows -->
<g filter="url(#sd)">
<path d="M2298 1209L2495 1109" fill="none" stroke="#e8007d" stroke-width="5"/>
<polygon points="2511,1098 2488,1098 2499,1118" fill="#e8007d"/>
<path d="M2580 3047L2930 3109" fill="none" stroke="#e8007d" stroke-width="5"/>
<polygon points="2950,3116 2926,3098 2921,3118" fill="#e8007d"/>
</g>
</svg>
</body></html>
